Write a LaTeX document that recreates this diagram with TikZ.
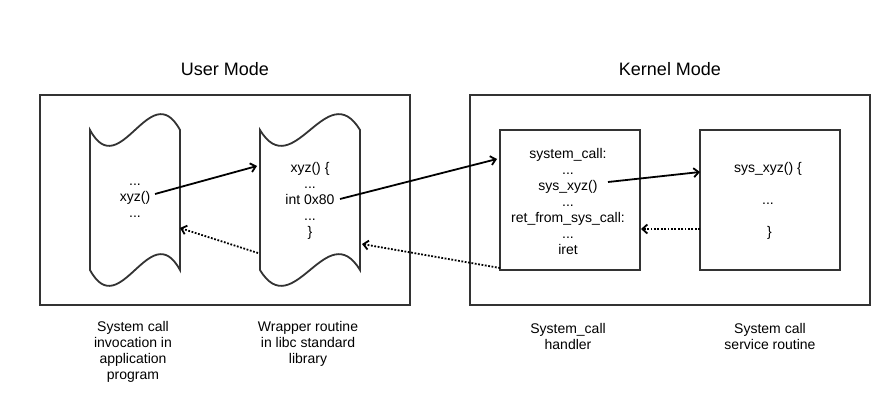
\documentclass[tikz,border=0pt]{standalone}
\usepackage{fontspec}
\setmainfont{Liberation Sans}
\usetikzlibrary{arrows.meta}
\definecolor{frame}{HTML}{333333}
\tikzset{
  x=1pt, y=-1pt,
  frm/.style={draw=frame, line width=1.8pt},
  txt/.style={font=\fontsize{14}{16}\selectfont, align=center, inner sep=0pt, text=black},
  ttl/.style={font=\fontsize{18}{21}\selectfont, inner sep=0pt},
  call/.style={line width=1.8pt, -{Straight Barb[length=5pt,width=9pt]}},
  ret/.style={line width=1.8pt, dash pattern=on 1.8pt off 1.6pt, -{Straight Barb[length=5pt,width=9pt]}},
  tapebox/.style={draw=none, minimum width=#1, minimum height=140pt, inner sep=0pt}
}
\newcommand{\tapeshape}[3]{% left x, right x, top y
  \draw[frm]
    (#1,#3) .. controls ({#1+(#2-#1)/3},{#3+55}) and ({#1+2*(#2-#1)/3},{#3-55}) .. (#2,#3)
    -- (#2,{#3+140})
    .. controls ({#1+2*(#2-#1)/3},{#3+140-55}) and ({#1+(#2-#1)/3},{#3+140+55}) .. (#1,{#3+140})
    -- cycle;
}
\begin{document}
\begin{tikzpicture}
\useasboundingbox[fill=white] (0,0) rectangle (890,404);

% titles
\node[ttl] (tu) at (225,69) {User Mode};
\node[ttl] (tk) at (670,69) {Kernel Mode};

% mode frames
\node[frm, minimum width=370pt, minimum height=210pt, inner sep=0pt] (user) at (225,200) {};
\node[frm, minimum width=400pt, minimum height=210pt, inner sep=0pt] (kern) at (670,200) {};

% tapes
\tapeshape{90}{180}{130}
\tapeshape{260}{360}{130}
\node[tapebox=90pt] (app) at (135,200) {};
\node[tapebox=100pt] (wrap) at (310,200) {};

% kernel boxes
\node[frm, minimum width=140pt, minimum height=140pt, inner sep=0pt] (hand) at (570,200) {};
\node[frm, minimum width=140pt, minimum height=140pt, inner sep=0pt] (serv) at (770,200) {};

% texts
\node[txt] (atext) at (135,201) {...\\xyz()\\...};
\node[txt] (wtext) at (310,201) {xyz() \{\\...\\int 0x80\\...\\\}};
\node[txt] (htext) at (568,201) {system\_call:\\...\\sys\_xyz()\\...\\ret\_from\_sys\_call:\\...\\iret};
\node[txt] (stext) at (768,201) {sys\_xyz() \{\\[16pt]...\\[16pt]\hspace*{3pt}\}};

% captions
\node[txt] (c1) at (133,352) {System call\\invocation in\\application\\program};
\node[txt] (c2) at (308,344) {Wrapper routine\\in libc standard\\library};
\node[txt] (c3) at (568,336) {System\_call\\handler};
\node[txt] (c4) at (770,336) {System call\\service routine};

% connector end points
\coordinate (p1s) at (155,194);
\coordinate (p1e) at (257,166);
\coordinate (p2s) at (340,199);
\coordinate (p2e) at (497,159);
\coordinate (p3s) at (608,182);
\coordinate (p3e) at (700,172);
\coordinate (r1s) at (700,229);
\coordinate (r1e) at (641,229);
\coordinate (r2s) at (500,268);
\coordinate (r2e) at (362,244);
\coordinate (r3s) at (258,253);
\coordinate (r3e) at (180,228);

\draw[call] (p1s) -- (p1e);
\draw[call] (p2s) -- (p2e);
\draw[call] (p3s) -- (p3e);
\draw[ret] (r1s) -- (r1e);
\draw[ret] (r2s) -- (r2e);
\draw[ret] (r3s) -- (r3e);
\end{tikzpicture}
\end{document}
